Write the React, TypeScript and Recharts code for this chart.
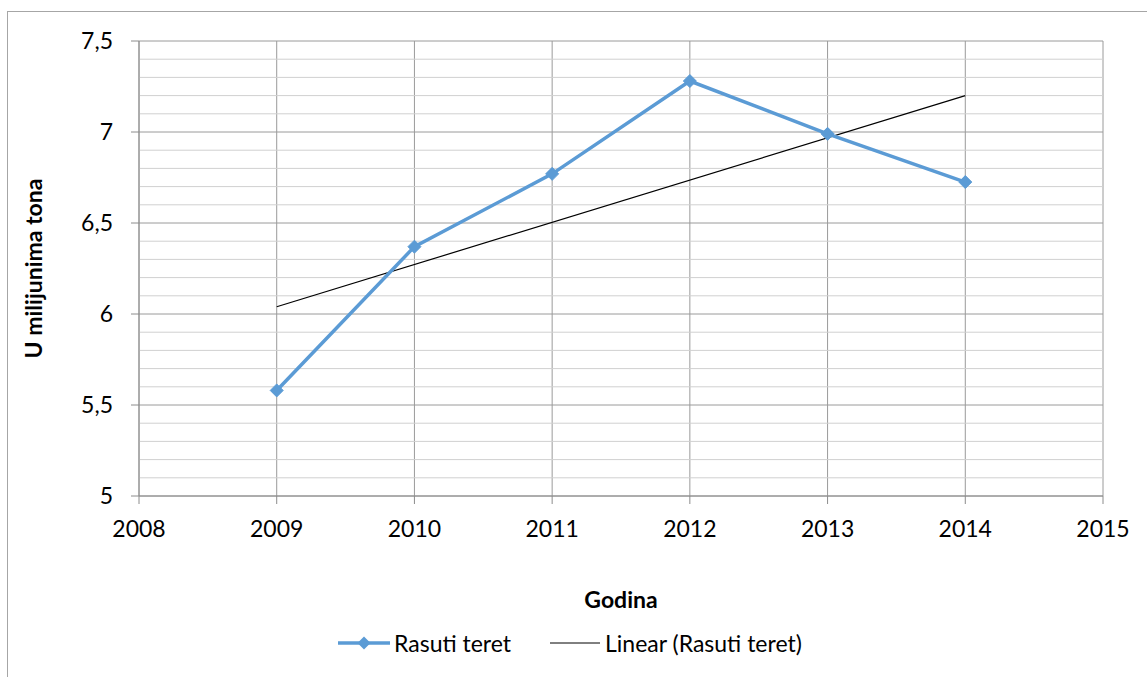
import React from 'react';
import { LineChart, Line, XAxis, YAxis, CartesianGrid, ReferenceLine } from 'recharts';

const years = [2009, 2010, 2011, 2012, 2013, 2014];
const rasutiTeret = [5.58, 6.37, 6.77, 7.28, 6.99, 6.725];
const trendYears = [2009, 2014];
const trendValues = [6.04, 7.2];
const xTicks = [2008, 2009, 2010, 2011, 2012, 2013, 2014, 2015];
const yTicks = [5, 5.5, 6, 6.5, 7, 7.5];
const yMinor = [5.1, 5.2, 5.3, 5.4, 5.6, 5.7, 5.8, 5.9, 6.1, 6.2, 6.3, 6.4, 6.6, 6.7, 6.8, 6.9, 7.1, 7.2, 7.3, 7.4];

const data = years.map((y, i) => {
  const ti = trendYears.indexOf(y);
  return { year: y, value: rasutiTeret[i], trend: ti >= 0 ? trendValues[ti] : null };
});

const BLUE = '#5B9BD5';
const FONT = 'Lato, "Open Sans", sans-serif';
const FS = 23;

const Diamond = (props: any) => {
  const { cx, cy } = props;
  if (cx == null || cy == null) return null;
  const r = 6.5;
  return <path d={`M${cx},${cy - r}L${cx + r},${cy}L${cx},${cy + r}L${cx - r},${cy}Z`} fill={BLUE} stroke={BLUE} />;
};

export default function App() {
  return (
    <div style={{ position: 'absolute', left: 0, top: 0, width: 1147, height: 677, overflow: 'hidden', background: '#fff', fontFamily: FONT }}>
      <div style={{ position: 'absolute', left: 7, top: 11, width: 1140, height: 666, borderLeft: '1px solid #a6a6a6', borderTop: '1px solid #a6a6a6', boxSizing: 'border-box' }} />
      <div style={{ position: 'absolute', left: 0, top: 0 }}>
        <LineChart width={1147} height={677} data={data} margin={{ top: 41, right: 44, bottom: 0, left: 0 }}>
          <CartesianGrid horizontal={false} vertical={true} stroke="#9a9a9a" strokeWidth={1} verticalValues={xTicks} />
          {yMinor.map((v) => (
            <ReferenceLine key={v} y={v} stroke="#d0d0d0" strokeWidth={1} ifOverflow="hidden" />
          ))}
          {yTicks.map((v) => (
            <ReferenceLine key={'m' + v} y={v} stroke="#9a9a9a" strokeWidth={1} />
          ))}
          <XAxis
            dataKey="year"
            type="number"
            domain={[2008, 2015]}
            ticks={xTicks}
            interval={0}
            height={181}
            tickSize={8}
            tickMargin={17}
            stroke="#8c8c8c"
            tick={{ fill: '#000', fontSize: FS, fontFamily: FONT }}
            allowDataOverflow
            label={{ value: 'Godina', position: 'insideTop', offset: 96, fill: '#000', fontSize: FS, fontWeight: 700, fontFamily: FONT }}
          />
          <YAxis
            type="number"
            domain={[5, 7.5]}
            ticks={yTicks}
            interval={0}
            width={139}
            tickSize={8}
            tickMargin={18}
            stroke="#8c8c8c"
            tick={{ fill: '#000', fontSize: FS, fontFamily: FONT }}
            tickFormatter={(v: number) => String(v).replace('.', ',')}
            allowDataOverflow
            label={{ value: 'U milijunima tona', angle: -90, position: 'insideLeft', offset: 34, fill: '#000', fontSize: FS, fontWeight: 700, fontFamily: FONT, style: { textAnchor: 'middle' } }}
          />
          <Line dataKey="trend" stroke="#000" strokeWidth={1.2} dot={false} connectNulls isAnimationActive={false} />
          <Line dataKey="value" stroke={BLUE} strokeWidth={3.5} dot={<Diamond />} activeDot={false} isAnimationActive={false} />
        </LineChart>
      </div>
      <div style={{ position: 'absolute', left: 338, top: 631, height: 24, display: 'flex', alignItems: 'center', fontSize: FS, color: '#000', fontFamily: FONT }}>
        <svg width={52} height={20}>
          <line x1={0} y1={10} x2={52} y2={10} stroke={BLUE} strokeWidth={3.5} />
          <path d="M26,3.5L32.5,10L26,16.5L19.5,10Z" fill={BLUE} />
        </svg>
        <span style={{ marginLeft: 4 }}>Rasuti teret</span>
      </div>
      <div style={{ position: 'absolute', left: 550, top: 631, height: 24, display: 'flex', alignItems: 'center', fontSize: FS, color: '#000', fontFamily: FONT }}>
        <svg width={50} height={20}>
          <line x1={0} y1={10} x2={50} y2={10} stroke="#000" strokeWidth={1} />
        </svg>
        <span style={{ marginLeft: 5 }}>Linear (Rasuti teret)</span>
      </div>
    </div>
  );
}
